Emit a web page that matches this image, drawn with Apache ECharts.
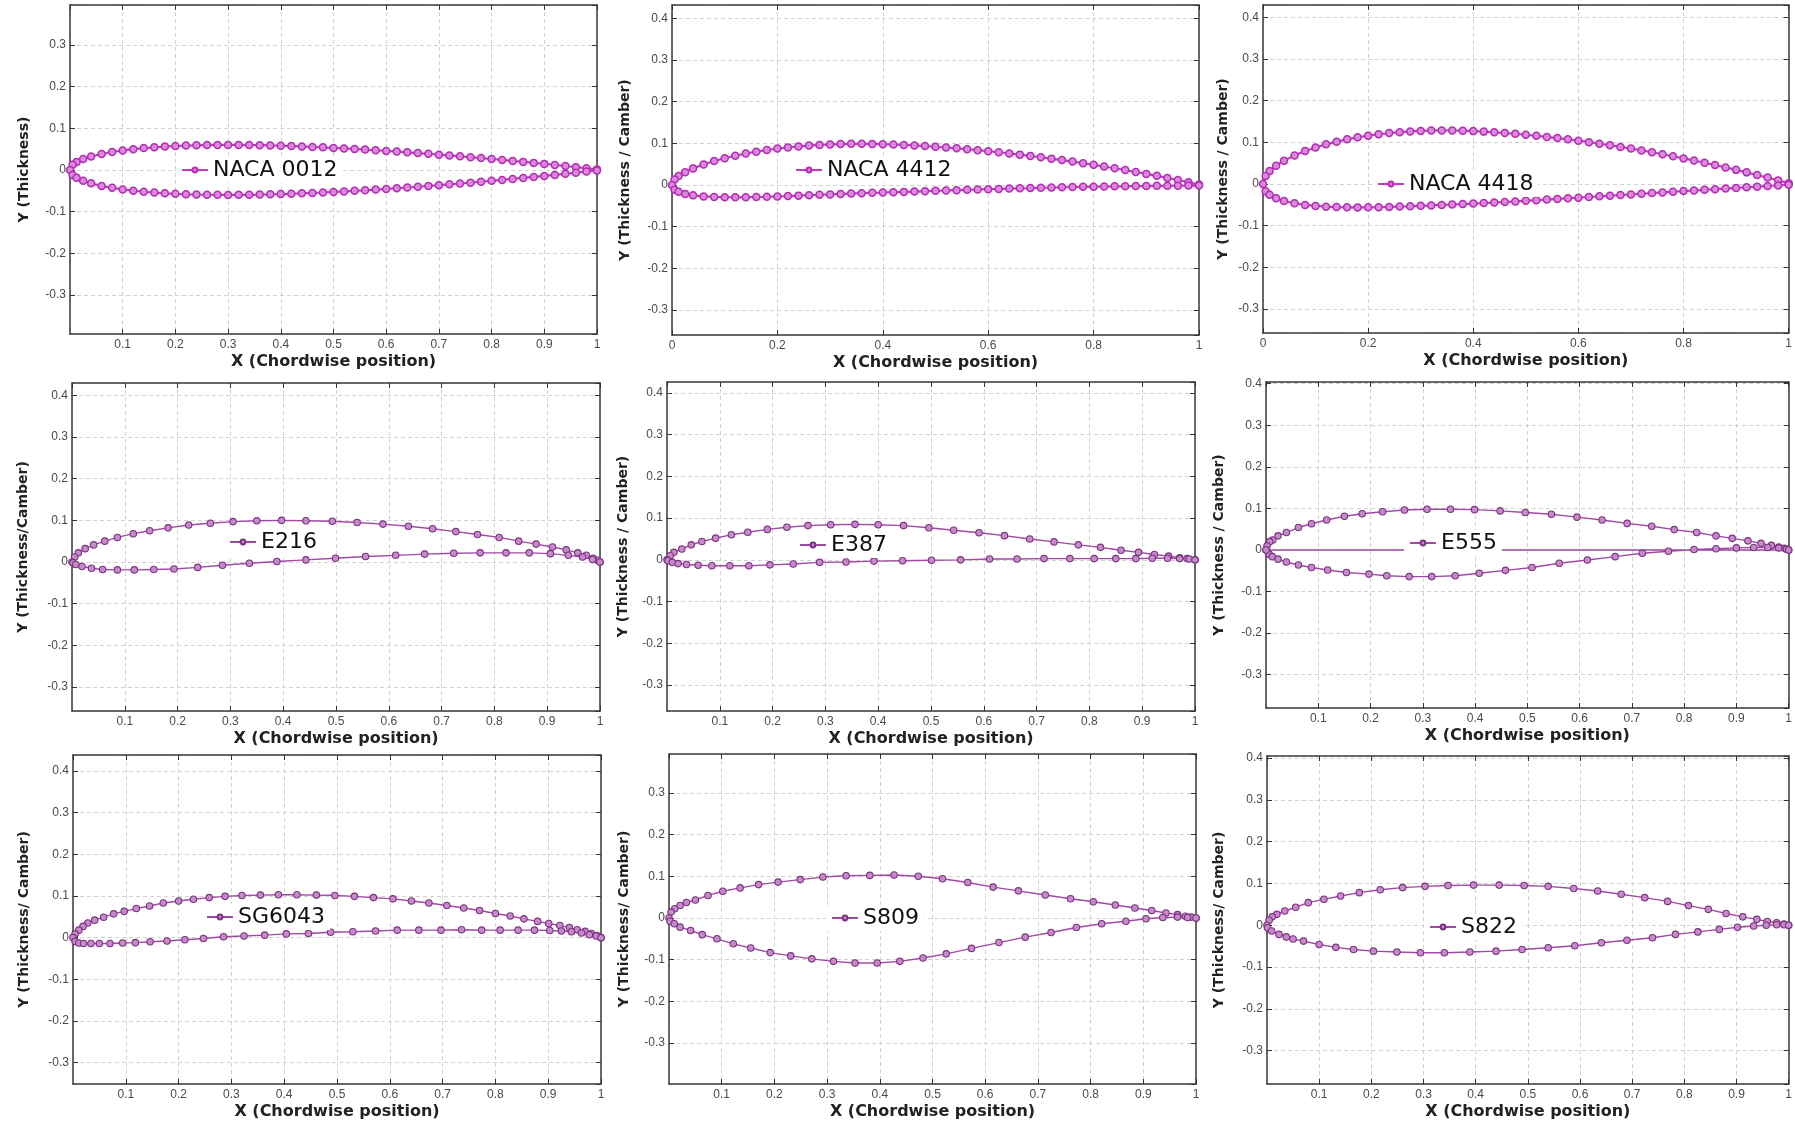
<!DOCTYPE html>
<html>
<head>
<meta charset="utf-8">
<title>Airfoil profiles</title>
<script src="https://cdn.jsdelivr.net/npm/echarts@6.0.0/dist/echarts.min.js"></script>
<style>
  html, body { margin: 0; padding: 0; background: #fff; }
  #chart { width: 1795px; height: 1125px; }
</style>
</head>
<body>
<div id="chart"></div>
<script>
// chordwise stations shared by the three NACA sections
const nacaX = [0, 0.005, 0.0125, 0.025, 0.04, 0.06, 0.08, 0.10, 0.12, 0.14, 0.16, 0.18, 0.20, 0.22, 0.24, 0.26, 0.28, 0.30, 0.32, 0.34, 0.36, 0.38, 0.40, 0.42, 0.44, 0.46, 0.48, 0.50, 0.52, 0.54, 0.56, 0.58, 0.60, 0.62, 0.64, 0.66, 0.68, 0.70, 0.72, 0.74, 0.76, 0.78, 0.80, 0.82, 0.84, 0.86, 0.88, 0.90, 0.92, 0.94, 0.96, 0.98, 1.00];

const naca0012Upper = [0, 0.0122, 0.0189, 0.0261, 0.0323, 0.0384, 0.0431, 0.0468, 0.0499, 0.0524, 0.0544, 0.0561, 0.0574, 0.0584, 0.0591, 0.0596, 0.0599, 0.0600, 0.0599, 0.0597, 0.0593, 0.0587, 0.0580, 0.0572, 0.0563, 0.0553, 0.0542, 0.0529, 0.0516, 0.0502, 0.0488, 0.0472, 0.0456, 0.0440, 0.0422, 0.0404, 0.0386, 0.0366, 0.0347, 0.0326, 0.0306, 0.0284, 0.0262, 0.0240, 0.0217, 0.0193, 0.0169, 0.0145, 0.0120, 0.0094, 0.0067, 0.0040, 0.0013];
const naca0012Lower = [0, -0.0122, -0.0189, -0.0261, -0.0323, -0.0384, -0.0431, -0.0468, -0.0499, -0.0524, -0.0544, -0.0561, -0.0574, -0.0584, -0.0591, -0.0596, -0.0599, -0.0600, -0.0599, -0.0597, -0.0593, -0.0587, -0.0580, -0.0572, -0.0563, -0.0553, -0.0542, -0.0529, -0.0516, -0.0502, -0.0488, -0.0472, -0.0456, -0.0440, -0.0422, -0.0404, -0.0386, -0.0366, -0.0347, -0.0326, -0.0306, -0.0284, -0.0262, -0.0240, -0.0217, -0.0193, -0.0169, -0.0145, -0.0120, -0.0094, -0.0067, -0.0040, -0.0013];

const naca4412Upper = [0, 0.0132, 0.0214, 0.0309, 0.0399, 0.0495, 0.0575, 0.0643, 0.0703, 0.0755, 0.0800, 0.0840, 0.0874, 0.0903, 0.0927, 0.0947, 0.0963, 0.0975, 0.0983, 0.0988, 0.0989, 0.0986, 0.0980, 0.0972, 0.0961, 0.0949, 0.0935, 0.0918, 0.0900, 0.0880, 0.0860, 0.0836, 0.0812, 0.0786, 0.0758, 0.0729, 0.0699, 0.0666, 0.0633, 0.0598, 0.0562, 0.0524, 0.0484, 0.0444, 0.0402, 0.0358, 0.0313, 0.0267, 0.0220, 0.0170, 0.0119, 0.0066, 0.0013];
const naca4412Lower = [0, -0.0112, -0.0164, -0.0213, -0.0247, -0.0273, -0.0287, -0.0293, -0.0295, -0.0293, -0.0288, -0.0282, -0.0274, -0.0265, -0.0255, -0.0245, -0.0235, -0.0225, -0.0215, -0.0206, -0.0197, -0.0188, -0.0180, -0.0172, -0.0165, -0.0157, -0.0149, -0.0140, -0.0132, -0.0124, -0.0116, -0.0108, -0.0100, -0.0094, -0.0086, -0.0079, -0.0073, -0.0066, -0.0061, -0.0054, -0.0050, -0.0044, -0.0040, -0.0036, -0.0032, -0.0028, -0.0025, -0.0023, -0.0020, -0.0018, -0.0015, -0.0014, -0.0013];

const naca4418Upper = [0, 0.0193, 0.0309, 0.0440, 0.0560, 0.0687, 0.0790, 0.0877, 0.0953, 0.1017, 0.1072, 0.1120, 0.1161, 0.1195, 0.1223, 0.1245, 0.1263, 0.1275, 0.1283, 0.1286, 0.1285, 0.1280, 0.1270, 0.1258, 0.1242, 0.1225, 0.1205, 0.1183, 0.1158, 0.1131, 0.1103, 0.1073, 0.1040, 0.1005, 0.0969, 0.0931, 0.0891, 0.0850, 0.0806, 0.0762, 0.0714, 0.0666, 0.0615, 0.0564, 0.0510, 0.0455, 0.0398, 0.0339, 0.0279, 0.0217, 0.0153, 0.0086, 0.0019];
const naca4418Lower = [0, -0.0173, -0.0259, -0.0344, -0.0408, -0.0465, -0.0502, -0.0527, -0.0545, -0.0555, -0.0560, -0.0562, -0.0561, -0.0557, -0.0551, -0.0543, -0.0535, -0.0525, -0.0515, -0.0504, -0.0493, -0.0482, -0.0470, -0.0458, -0.0446, -0.0433, -0.0419, -0.0405, -0.0390, -0.0375, -0.0359, -0.0345, -0.0328, -0.0313, -0.0297, -0.0281, -0.0265, -0.0250, -0.0234, -0.0218, -0.0202, -0.0186, -0.0171, -0.0156, -0.0140, -0.0125, -0.0110, -0.0095, -0.0079, -0.0065, -0.0049, -0.0034, -0.0019];

// other sections: upper and lower surface, leading edge -> trailing edge
const e216UpperX = [0, 0.005, 0.012, 0.025, 0.041, 0.062, 0.086, 0.116, 0.147, 0.182, 0.221, 0.262, 0.305, 0.350, 0.397, 0.443, 0.493, 0.540, 0.589, 0.637, 0.683, 0.727, 0.768, 0.809, 0.846, 0.879, 0.910, 0.936, 0.958, 0.974, 0.987, 0.995, 1];
const e216UpperY = [0, 0.012, 0.022, 0.032, 0.041, 0.050, 0.059, 0.068, 0.075, 0.082, 0.089, 0.093, 0.097, 0.099, 0.100, 0.099, 0.098, 0.095, 0.091, 0.086, 0.080, 0.073, 0.066, 0.059, 0.050, 0.043, 0.036, 0.029, 0.022, 0.016, 0.009, 0.004, 0];
const e216LowerX = [0, 0.002, 0.007, 0.019, 0.037, 0.058, 0.086, 0.118, 0.155, 0.193, 0.238, 0.285, 0.336, 0.388, 0.443, 0.499, 0.556, 0.613, 0.668, 0.723, 0.773, 0.822, 0.866, 0.906, 0.940, 0.967, 0.986, 1];
const e216LowerY = [0, -0.002, -0.006, -0.011, -0.015, -0.018, -0.019, -0.019, -0.018, -0.017, -0.013, -0.008, -0.003, 0.001, 0.005, 0.009, 0.013, 0.016, 0.019, 0.021, 0.022, 0.022, 0.022, 0.020, 0.016, 0.012, 0.006, 0];

const e387UpperX = [0, 0.006, 0.013, 0.028, 0.046, 0.066, 0.092, 0.122, 0.153, 0.190, 0.227, 0.267, 0.310, 0.356, 0.400, 0.448, 0.496, 0.543, 0.591, 0.639, 0.687, 0.733, 0.779, 0.821, 0.860, 0.893, 0.923, 0.950, 0.971, 0.985, 1];
const e387UpperY = [0, 0.010, 0.018, 0.026, 0.036, 0.044, 0.052, 0.060, 0.066, 0.073, 0.078, 0.082, 0.084, 0.085, 0.084, 0.082, 0.077, 0.071, 0.065, 0.058, 0.050, 0.043, 0.036, 0.030, 0.023, 0.018, 0.013, 0.009, 0.005, 0.003, 0];
const e387LowerX = [0, 0.002, 0.010, 0.021, 0.037, 0.059, 0.085, 0.119, 0.155, 0.195, 0.239, 0.289, 0.339, 0.392, 0.446, 0.501, 0.556, 0.611, 0.663, 0.714, 0.763, 0.809, 0.850, 0.888, 0.919, 0.948, 0.971, 0.989, 1];
const e387LowerY = [0, -0.002, -0.006, -0.009, -0.011, -0.013, -0.014, -0.014, -0.014, -0.012, -0.010, -0.006, -0.005, -0.003, -0.002, -0.001, 0, 0.002, 0.002, 0.003, 0.003, 0.003, 0.003, 0.003, 0.004, 0.004, 0.003, 0.002, 0];

const e555UpperX = [0, 0.002, 0.007, 0.013, 0.023, 0.039, 0.062, 0.087, 0.116, 0.150, 0.184, 0.223, 0.265, 0.308, 0.353, 0.399, 0.448, 0.496, 0.546, 0.595, 0.643, 0.691, 0.738, 0.781, 0.824, 0.861, 0.892, 0.922, 0.947, 0.967, 0.981, 0.992, 1];
const e555UpperY = [0, 0.010, 0.020, 0.024, 0.034, 0.042, 0.054, 0.063, 0.072, 0.081, 0.087, 0.092, 0.096, 0.098, 0.098, 0.097, 0.094, 0.090, 0.086, 0.079, 0.072, 0.064, 0.057, 0.049, 0.042, 0.034, 0.028, 0.022, 0.016, 0.011, 0.007, 0.004, 0];
// last point goes back to the leading edge (straight line along y = 0 in the source plot)
const e555LowerX = [0, 0.006, 0.012, 0.023, 0.039, 0.062, 0.087, 0.118, 0.154, 0.197, 0.231, 0.274, 0.317, 0.362, 0.408, 0.458, 0.509, 0.561, 0.615, 0.668, 0.720, 0.770, 0.819, 0.861, 0.900, 0.933, 0.960, 0.981, 0.996, 1, 0];
const e555LowerY = [0, -0.010, -0.016, -0.022, -0.029, -0.036, -0.042, -0.048, -0.054, -0.058, -0.062, -0.064, -0.064, -0.062, -0.056, -0.049, -0.042, -0.032, -0.024, -0.016, -0.008, -0.003, 0.001, 0.003, 0.005, 0.006, 0.006, 0.005, 0.002, 0, 0];

const sg6043UpperX = [0, 0.004, 0.011, 0.019, 0.028, 0.041, 0.058, 0.077, 0.097, 0.120, 0.145, 0.171, 0.200, 0.228, 0.258, 0.288, 0.320, 0.355, 0.389, 0.424, 0.461, 0.496, 0.533, 0.569, 0.606, 0.641, 0.674, 0.708, 0.740, 0.770, 0.800, 0.828, 0.854, 0.880, 0.901, 0.922, 0.940, 0.955, 0.970, 0.982, 0.992, 1];
const sg6043UpperY = [0, 0.009, 0.018, 0.027, 0.035, 0.042, 0.049, 0.057, 0.063, 0.070, 0.076, 0.083, 0.088, 0.092, 0.096, 0.099, 0.101, 0.102, 0.103, 0.103, 0.102, 0.101, 0.099, 0.096, 0.093, 0.088, 0.083, 0.077, 0.071, 0.065, 0.058, 0.052, 0.045, 0.039, 0.034, 0.029, 0.024, 0.019, 0.015, 0.010, 0.005, 0];
const sg6043LowerX = [0, 0.004, 0.011, 0.020, 0.034, 0.050, 0.070, 0.094, 0.118, 0.146, 0.178, 0.212, 0.247, 0.285, 0.324, 0.363, 0.404, 0.446, 0.488, 0.530, 0.573, 0.614, 0.655, 0.697, 0.736, 0.774, 0.809, 0.843, 0.874, 0.903, 0.925, 0.944, 0.963, 0.978, 0.991, 1];
const sg6043LowerY = [0, -0.009, -0.013, -0.014, -0.014, -0.014, -0.014, -0.013, -0.012, -0.010, -0.008, -0.005, -0.002, 0.002, 0.004, 0.006, 0.009, 0.010, 0.013, 0.014, 0.016, 0.018, 0.018, 0.018, 0.019, 0.018, 0.018, 0.018, 0.018, 0.017, 0.016, 0.014, 0.011, 0.007, 0.004, 0];

const s809UpperX = [0, 0.004, 0.011, 0.021, 0.033, 0.050, 0.074, 0.102, 0.135, 0.170, 0.207, 0.249, 0.292, 0.336, 0.381, 0.427, 0.473, 0.519, 0.567, 0.615, 0.663, 0.714, 0.762, 0.805, 0.847, 0.884, 0.916, 0.943, 0.965, 0.980, 0.991, 1];
const s809UpperY = [0, 0.014, 0.022, 0.030, 0.037, 0.043, 0.054, 0.064, 0.072, 0.080, 0.086, 0.092, 0.098, 0.101, 0.102, 0.103, 0.100, 0.094, 0.085, 0.074, 0.065, 0.055, 0.046, 0.039, 0.031, 0.024, 0.018, 0.012, 0.008, 0.004, 0.002, 0];
const s809LowerX = [0, 0.002, 0.010, 0.021, 0.041, 0.063, 0.091, 0.122, 0.155, 0.192, 0.231, 0.271, 0.312, 0.353, 0.395, 0.438, 0.482, 0.526, 0.574, 0.626, 0.676, 0.725, 0.773, 0.821, 0.867, 0.905, 0.937, 0.965, 0.984, 1];
const s809LowerY = [0, -0.008, -0.014, -0.022, -0.030, -0.040, -0.050, -0.062, -0.072, -0.083, -0.091, -0.098, -0.104, -0.108, -0.108, -0.104, -0.096, -0.086, -0.073, -0.059, -0.046, -0.035, -0.023, -0.014, -0.008, -0.002, 0.001, 0.002, 0.001, 0];

const s822UpperX = [0, 0.004, 0.010, 0.019, 0.034, 0.055, 0.079, 0.109, 0.141, 0.177, 0.217, 0.260, 0.303, 0.347, 0.396, 0.445, 0.493, 0.539, 0.588, 0.634, 0.679, 0.724, 0.768, 0.808, 0.846, 0.880, 0.912, 0.939, 0.959, 0.977, 0.991, 1];
const s822UpperY = [0, 0.012, 0.020, 0.026, 0.034, 0.043, 0.054, 0.062, 0.070, 0.078, 0.085, 0.090, 0.093, 0.095, 0.096, 0.096, 0.095, 0.093, 0.088, 0.082, 0.074, 0.066, 0.057, 0.047, 0.038, 0.028, 0.020, 0.014, 0.009, 0.006, 0.003, 0];
const s822LowerX = [0, 0.001, 0.009, 0.023, 0.037, 0.050, 0.070, 0.100, 0.132, 0.166, 0.204, 0.249, 0.294, 0.340, 0.389, 0.439, 0.489, 0.539, 0.590, 0.641, 0.690, 0.739, 0.783, 0.826, 0.867, 0.902, 0.933, 0.957, 0.977, 0.991, 1];
const s822LowerY = [0, -0.006, -0.014, -0.022, -0.028, -0.033, -0.038, -0.046, -0.053, -0.058, -0.062, -0.064, -0.066, -0.066, -0.064, -0.062, -0.058, -0.054, -0.049, -0.042, -0.036, -0.030, -0.022, -0.016, -0.010, -0.005, -0.002, 0, 0.001, 0.001, 0];

// upper surface TE -> LE, then lower surface LE -> TE (one closed outline)
function outline(upX, upY, loX, loY) {
  const pts = [];
  for (let i = upX.length - 1; i >= 0; i--) pts.push([upX[i], upY[i]]);
  for (let i = 1; i < loX.length; i++) pts.push([loX[i], loY[i]]);
  return pts;
}

// box = [left, top, width, height] of each plot area
const panels = [
  { name: 'NACA 0012', yName: 'Y (Thickness)', box: [70, 5, 527, 329], yMin: -0.394, yMax: 0.396, xStep: 0.1, showX0: false, yGap: 39, legendAt: [176, 157], dense: true,
    data: outline(nacaX, naca0012Upper, nacaX, naca0012Lower) },
  { name: 'NACA 4412', yName: 'Y (Thickness / Camber)', box: [672, 5, 527, 330], yMin: -0.36, yMax: 0.432, xStep: 0.2, showX0: true, yGap: 40, legendAt: [790, 157], dense: true,
    data: outline(nacaX, naca4412Upper, nacaX, naca4412Lower) },
  { name: 'NACA 4418', yName: 'Y (Thickness / Camber)', box: [1263, 5, 528, 328], yMin: -0.358, yMax: 0.43, xStep: 0.2, showX0: true, yGap: 33, legendAt: [1372, 171], dense: true,
    data: outline(nacaX, naca4418Upper, nacaX, naca4418Lower) },
  { name: 'E216', yName: 'Y (Thickness/Camber)', box: [72, 383, 528, 328], yMin: -0.358, yMax: 0.43, xStep: 0.1, showX0: false, yGap: 42, legendAt: [224, 529],
    data: outline(e216UpperX, e216UpperY, e216LowerX, e216LowerY) },
  { name: 'E387', yName: 'Y (Thickness / Camber)', box: [667, 382, 528, 329], yMin: -0.362, yMax: 0.426, xStep: 0.1, showX0: false, yGap: 37, legendAt: [794, 532],
    data: outline(e387UpperX, e387UpperY, e387LowerX, e387LowerY) },
  { name: 'E555', yName: 'Y (Thickness / Camber)', box: [1266, 382, 528, 326], yMin: -0.38, yMax: 0.404, xStep: 0.1, showX0: false, yGap: 40, legendAt: [1404, 530],
    data: outline(e555UpperX, e555UpperY, e555LowerX, e555LowerY) },
  { name: 'SG6043', yName: 'Y (Thickness/ Camber)', box: [73, 755, 528, 329], yMin: -0.351, yMax: 0.438, xStep: 0.1, showX0: false, yGap: 42, legendAt: [201, 904],
    data: outline(sg6043UpperX, sg6043UpperY, sg6043LowerX, sg6043LowerY) },
  { name: 'S809', yName: 'Y (Thickness/ Camber)', box: [669, 754, 527, 330], yMin: -0.398, yMax: 0.393, xStep: 0.1, showX0: false, yGap: 38, legendAt: [826, 905],
    data: outline(s809UpperX, s809UpperY, s809LowerX, s809LowerY) },
  { name: 'S822', yName: 'Y (Thickness/ Camber)', box: [1267, 756, 527, 328], yMin: -0.38, yMax: 0.405, xStep: 0.1, showX0: false, yGap: 41, legendAt: [1424, 914],
    data: outline(s822UpperX, s822UpperY, s822LowerX, s822LowerY) }
];

const chart = echarts.init(document.getElementById('chart'));

const fmt = v => String(Math.round(v * 1000) / 1000);
const tickStyle = { show: true, inside: true, length: 5, lineStyle: { color: '#333', width: 1 } };
const boxLine = { show: true, onZero: false, lineStyle: { color: '#3a3a3a', width: 1.5 } };
const gridLine = { show: true, lineStyle: { color: '#d3d3d3', type: [4, 3], width: 1 } };
const tickFont = { fontFamily: 'Liberation Sans, Arial', fontSize: 12, color: '#4a4a4a' };
const nameFont = { fontFamily: 'DejaVu Sans', fontWeight: 'bold', color: '#222' };

const grid = [], xAxis = [], yAxis = [], series = [], legend = [];

panels.forEach((p, i) => {
  grid.push({ left: p.box[0], top: p.box[1], width: p.box[2], height: p.box[3] });

  xAxis.push({
    gridIndex: i, type: 'value', min: 0, max: 1, interval: p.xStep,
    name: 'X (Chordwise position)', nameLocation: 'middle', nameGap: 20,
    nameTextStyle: Object.assign({ fontSize: 16 }, nameFont),
    axisLine: boxLine, axisTick: tickStyle,
    axisLabel: Object.assign({ margin: 5, showMinLabel: p.showX0, showMaxLabel: true, formatter: fmt }, tickFont),
    splitLine: gridLine
  });
  xAxis.push({
    gridIndex: i, type: 'value', position: 'top', min: 0, max: 1, interval: p.xStep,
    axisLine: boxLine, axisTick: tickStyle, axisLabel: { show: false }, splitLine: { show: false }
  });

  yAxis.push({
    gridIndex: i, type: 'value', min: p.yMin, max: p.yMax, minInterval: 0.1, maxInterval: 0.1,
    name: p.yName, nameLocation: 'middle', nameGap: p.yGap,
    nameTextStyle: Object.assign({ fontSize: 14 }, nameFont),
    axisLine: boxLine, axisTick: tickStyle,
    axisLabel: Object.assign({ margin: 4, showMinLabel: false, showMaxLabel: false, formatter: fmt }, tickFont),
    splitLine: gridLine
  });
  yAxis.push({
    gridIndex: i, type: 'value', position: 'right', min: p.yMin, max: p.yMax, minInterval: 0.1, maxInterval: 0.1,
    axisLine: boxLine, axisTick: tickStyle, axisLabel: { show: false }, splitLine: { show: false }
  });

  series.push({
    name: p.name, type: 'line', xAxisIndex: 2 * i, yAxisIndex: 2 * i,
    data: p.data, symbol: 'circle', symbolSize: p.dense ? 7 : 6.5,
    lineStyle: { color: p.dense ? '#c03cc4' : '#a148a5', width: p.dense ? 2.2 : 1.4 },
    itemStyle: { color: p.dense ? '#d98ad9' : '#c58bc8', borderColor: p.dense ? '#b22cb4' : '#7d3182', borderWidth: p.dense ? 1.5 : 1.1 },
    silent: true, z: 3
  });

  legend.push({
    data: [p.name], left: p.legendAt[0], top: p.legendAt[1], orient: 'horizontal',
    backgroundColor: '#fff', padding: [1, 5, 1, 5], itemWidth: 26, itemHeight: 6, itemGap: 0,
    textStyle: { fontFamily: 'DejaVu Sans', fontSize: 22, color: '#111', lineHeight: 24 },
    selectedMode: false, z: 5
  });
});

chart.setOption({
  backgroundColor: '#fff',
  animation: false,
  grid: grid,
  xAxis: xAxis,
  yAxis: yAxis,
  legend: legend,
  series: series
});
</script>
</body>
</html>
